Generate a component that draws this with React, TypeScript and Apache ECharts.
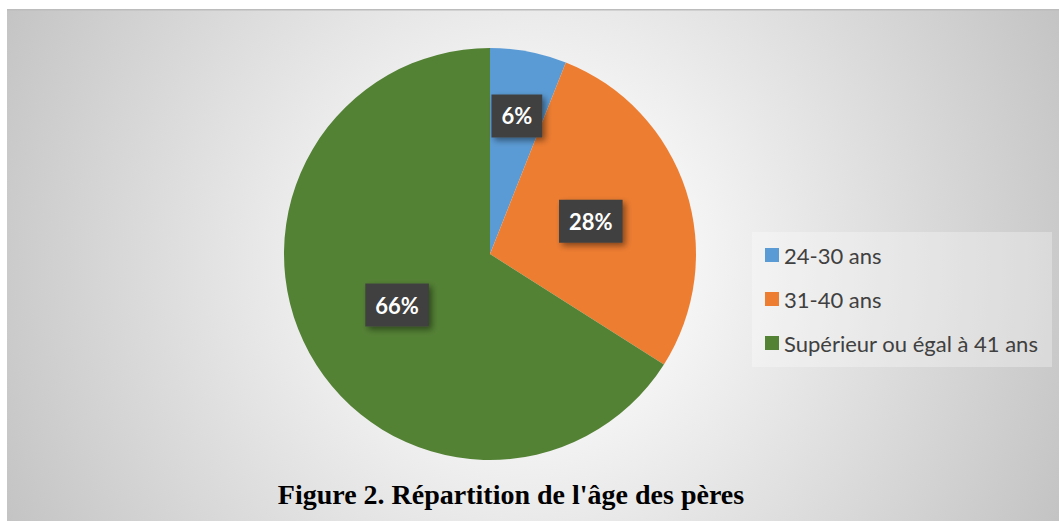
import React, { useEffect, useRef } from 'react';
import * as echarts from 'echarts';

const categories = ['24-30 ans', '31-40 ans', 'Supérieur ou égal à 41 ans'];
const values = [6, 28, 66];
const colors = ['#5B9BD5', '#ED7D31', '#548235'];
const titleText = "Figure 2. Répartition de l'âge des pères";

export default function App() {
  const ref = useRef<HTMLDivElement>(null);
  useEffect(() => {
    document.body.style.margin = '0';
    const chart = echarts.init(ref.current!, null, { renderer: 'svg' });
    chart.setOption({
      animation: false,
      graphic: [
        {
          type: 'rect',
          z: 0,
          silent: true,
          shape: { x: 7, y: 9, width: 1052, height: 512 },
          style: {
            fill: {
              type: 'radial',
              x: 530,
              y: 262,
              r: 600,
              global: true,
              colorStops: [
                { offset: 0, color: '#ffffff' },
                { offset: 0.25, color: '#f6f6f6' },
                { offset: 1, color: '#c2c2c2' },
              ],
            },
          },
        },
        {
          type: 'rect',
          z: 1,
          silent: true,
          shape: { x: 7, y: 9, width: 1052, height: 1.5 },
          style: { fill: '#bcbcbc' },
        },
        {
          type: 'rect',
          z: 1,
          silent: true,
          shape: { x: 752, y: 232, width: 300, height: 135 },
          style: { fill: 'rgba(255,255,255,0.3)' },
        },
        {
          type: 'text',
          z: 5,
          x: 511,
          y: 494,
          style: {
            text: titleText,
            textAlign: 'center',
            textVerticalAlign: 'middle',
            fontFamily: 'Liberation Serif',
            fontWeight: 'bold',
            fontSize: 28,
            fill: '#000000',
          },
        },
      ],
      legend: {
        orient: 'vertical',
        left: 765,
        top: 244,
        padding: 0,
        itemWidth: 14,
        itemHeight: 14,
        itemGap: 22,
        icon: 'rect',
        data: categories,
        textStyle: { fontFamily: 'Lato', fontSize: 22, lineHeight: 22, color: '#404040' },
      },
      series: [
        {
          type: 'pie',
          center: [490, 254],
          radius: 206,
          startAngle: 90,
          clockwise: true,
          data: categories.map((name, i) => ({
            name,
            value: values[i],
            itemStyle: { color: colors[i] },
          })),
          label: {
            show: true,
            position: 'inside',
            formatter: '{c}%',
            color: '#ffffff',
            fontFamily: 'Lato',
            fontWeight: 'bold',
            fontSize: 22,
            backgroundColor: '#404040',
            padding: [11, 10, 10, 10],
            shadowColor: 'rgba(0,0,0,0.45)',
            shadowBlur: 6,
            shadowOffsetX: 3,
            shadowOffsetY: 3,
          },
          labelLine: { show: false },
          labelLayout: (p: any) => (p.dataIndex === 0 ? { dx: 7, dy: -34 } : {}),
        },
      ],
    });
    return () => chart.dispose();
  }, []);
  return <div ref={ref} style={{ width: 1059, height: 521 }} />;
}
